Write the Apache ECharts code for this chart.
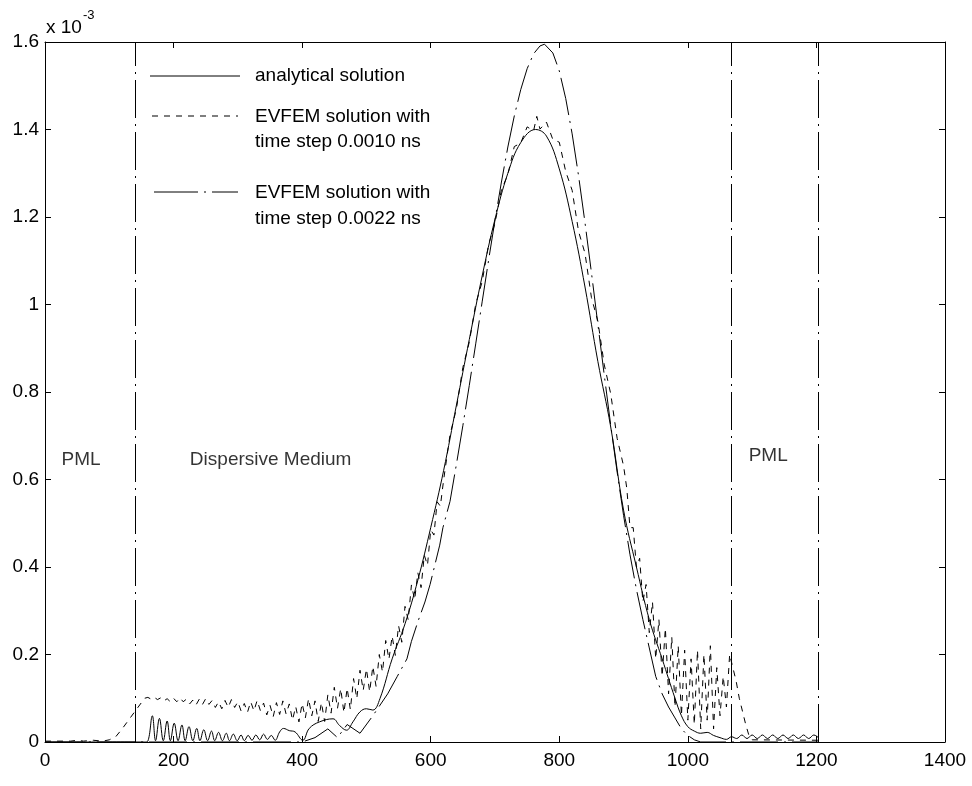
<!DOCTYPE html>
<html>
<head>
<meta charset="utf-8">
<script src="https://cdn.jsdelivr.net/npm/echarts@6/dist/echarts.min.js"></script>
<style>
html,body{margin:0;padding:0;background:#fff;}
#chart{width:972px;height:786px;}
</style>
</head>
<body>
<div id="chart"></div>
<script>
// ---- data (values in units of 1e-3) ----
const analytical = [[0,0],[155,0],[160,0.002],[167,0.060],[172,0.003],[178,0.054],[184,0.003],[190,0.048],[195,0.003],[201,0.043],[207,0.003],[213,0.039],[218,0.003],[224,0.035],[230,0.003],[236,0.031],[241,0.003],[247,0.028],[253,0.003],[259,0.025],[264,0.003],[270,0.022],[276,0.003],[282,0.020],[287,0.003],[293,0.018],[299,0.003],[305,0.016],[310,0.003],[316,0.015],[322,0.004],[328,0.016],[334,0.005],[340,0.018],[346,0.006],[352,0.015],[358,0.004],[365,0.023],[371,0.031],[380,0.026],[389,0.023],[401,0.004],[411,0.031],[427,0.046],[448,0.053],[458,0.038],[469,0.027],[479,0.046],[490,0.069],[500,0.076],[510,0.073],[521,0.099],[540,0.19],[560,0.27],[580,0.37],[600,0.49],[620,0.62],[640,0.77],[660,0.92],[680,1.065],[700,1.195],[720,1.30],[740,1.37],[763,1.40],[780,1.385],[800,1.31],[820,1.19],[840,1.04],[860,0.87],[880,0.72],[900,0.53],[920,0.40],[940,0.28],[960,0.19],[980,0.10],[990,0.06],[1000,0.035],[1010,0.025],[1020,0.02],[1030,0.022],[1040,0.015],[1050,0.01],[1060,0.006],[1068,0.012],[1076,0.008],[1084,0.016],[1092,0.008],[1100,0.016],[1108,0.008],[1116,0.016],[1124,0.008],[1132,0.016],[1140,0.008],[1148,0.016],[1156,0.008],[1164,0.016],[1172,0.008],[1180,0.016],[1188,0.008],[1196,0.016],[1203,0.01]];

const evfem0010 = [[0,0.002],[40,0.002],[50,0.004],[60,0.002],[75,0.004],[90,0.002],[100,0.005],[110,0.012],[120,0.03],[130,0.05],[140,0.07],[150,0.09],[155,0.1],
[160,0.102],[165,0.098],[170,0.102],[175,0.097],[180,0.101],[185,0.094],[190,0.099],[195,0.092],[200,0.100],[205,0.092],[210,0.101],[215,0.092],[220,0.098],[225,0.087],[230,0.096],[235,0.085],[240,0.098],[245,0.086],[250,0.099],[255,0.086],[260,0.095],[265,0.079],[270,0.092],[275,0.076],[280,0.095],[285,0.079],[290,0.097],[295,0.079],[300,0.092],[305,0.071],[310,0.088],[315,0.068],[320,0.092],[325,0.071],[330,0.095],[335,0.072],[340,0.089],[345,0.062],[350,0.084],[355,0.058],[360,0.090],[365,0.063],[370,0.094],[375,0.064],[380,0.087],[385,0.050],[390,0.081],[395,0.046],[400,0.088],[405,0.055],[410,0.099],[415,0.060],[420,0.094],[425,0.047],[430,0.090],[435,0.047],[440,0.108],[445,0.066],[450,0.125],[455,0.077],[460,0.122],[465,0.067],[470,0.123],[475,0.074],[480,0.145],[485,0.099],[490,0.164],[495,0.118],[500,0.167],[505,0.115],[510,0.173],[515,0.127],[520,0.200],[525,0.160],[530,0.232],[535,0.189],[540,0.242],[545,0.198],[550,0.266],[555,0.228],[560,0.310],[565,0.279],[570,0.359],[575,0.325],[580,0.387],[585,0.353],[590,0.427],[595,0.404],[600,0.485],[605,0.473],[610,0.549],[615,0.539],[620,0.598],
[630,0.702],[640,0.762],[650,0.856],[660,0.914],[670,1.001],[680,1.052],[690,1.137],[700,1.186],[710,1.262],[720,1.297],[730,1.361],[740,1.369],[750,1.406],[760,1.397],[765,1.43],[770,1.401],[780,1.417],[790,1.377],[800,1.371],[810,1.304],[820,1.261],[830,1.167],[840,1.117],[850,1.016],[860,0.962],[870,0.862],[880,0.796],[890,0.694],[900,0.631],
[905,0.58],[910,0.49],[915,0.49],[920,0.40],[925,0.42],[930,0.32],[935,0.36],[940,0.25],[945,0.32],[950,0.19],[955,0.28],[960,0.15],[965,0.26],[970,0.11],[975,0.24],[980,0.08],[985,0.22],[990,0.06],[995,0.21],[1000,0.05],[1005,0.19],[1010,0.04],[1015,0.21],[1020,0.03],[1025,0.20],[1030,0.05],[1035,0.22],[1040,0.03],[1045,0.17],[1050,0.06],[1055,0.15],[1060,0.08],[1065,0.20],[1070,0.17],[1075,0.14],[1080,0.10],[1085,0.07],[1090,0.04],[1095,0.015],[1100,0.005],[1203,0.004]];

const evfem0022 = [[0,0],[400,0],[420,0.01],[440,0.03],[455,0.01],[470,0.04],[490,0.02],[510,0.06],[533,0.11],[548,0.15],[563,0.19],[570,0.23],[580,0.275],[591,0.32],[599,0.36],[614,0.45],[619,0.49],[630,0.55],[640,0.635],[650,0.723],[660,0.815],[670,0.91],[680,1.006],[690,1.101],[700,1.193],[710,1.28],[720,1.36],[730,1.431],[740,1.491],[750,1.539],[760,1.573],[770,1.591],[777,1.595],[790,1.575],[800,1.534],[810,1.471],[820,1.39],[830,1.294],[840,1.187],[850,1.073],[860,0.955],[870,0.838],[880,0.724],[890,0.617],[900,0.518],[910,0.428],[920,0.349],[930,0.28],[940,0.215],[950,0.15],[960,0.11],[970,0.08],[980,0.055],[990,0.03],[1000,0.015],[1010,0.005],[1020,0],[1203,0]];

const boundaries = [140, 1068, 1203];
const regionLabels = [[56, 0.646, 'PML'], [351, 0.646, 'Dispersive Medium'], [1125, 0.655, 'PML']];
const seriesNames = ['analytical solution', 'EVFEM solution with\ntime step 0.0010 ns', 'EVFEM solution with\ntime step 0.0022 ns'];

// ---- chart ----
const FONT = "'Liberation Sans', Arial, Helvetica, sans-serif";
const FS = 19;
const DASH = [6, 6];
const DASHDOT = [38, 6, 2, 6];
const chart = echarts.init(document.getElementById('chart'), null, {renderer: 'canvas'});

const axisCommon = {
  type: 'value',
  axisLine: {show: true, onZero: false, lineStyle: {color: '#000', width: 1}},
  axisTick: {show: true, inside: true, length: 6, lineStyle: {color: '#000'}},
  splitLine: {show: false}
};

const option = {
  animation: false,
  backgroundColor: '#fff',
  grid: {left: 45, right: 27, top: 42, bottom: 44, containLabel: false},
  xAxis: [
    Object.assign({}, axisCommon, {min: 0, max: 1400, interval: 200, position: 'bottom',
      axisLabel: {color: '#000', fontSize: FS, fontFamily: FONT, margin: 9,
        formatter: v => String(Math.round(v))}}),
    Object.assign({}, axisCommon, {min: 0, max: 1400, interval: 200, position: 'top',
      axisLabel: {show: false}})
  ],
  yAxis: [
    Object.assign({}, axisCommon, {min: 0, max: 1.6, interval: 0.2, position: 'left',
      axisLabel: {color: '#000', fontSize: FS, fontFamily: FONT, margin: 6,
        formatter: v => String(Math.round(v * 10) / 10)}}),
    Object.assign({}, axisCommon, {min: 0, max: 1.6, interval: 0.2, position: 'right',
      axisLabel: {show: false}})
  ],
  series: [
    {
      name: seriesNames[0], type: 'line', data: analytical, showSymbol: false, symbol: 'none',
      smooth: 0.4,
      lineStyle: {color: '#000', width: 1, type: 'solid'}, z: 3,
      markLine: {
        silent: true, symbol: ['none', 'none'], label: {show: false},
        lineStyle: {color: '#000', width: 1, type: DASHDOT},
        data: boundaries.map(v => ({xAxis: v}))
      }
    },
    {
      name: seriesNames[1], type: 'line', data: evfem0010, showSymbol: false, symbol: 'none',
      lineStyle: {color: '#000', width: 1, type: DASH}, z: 2
    },
    {
      name: seriesNames[2], type: 'line', data: evfem0022, showSymbol: false, symbol: 'none',
      lineStyle: {color: '#000', width: 1, type: DASHDOT}, z: 2
    },
    {
      type: 'scatter', data: regionLabels, symbolSize: 0, silent: true,
      itemStyle: {color: '#000'},
      label: {show: true, position: 'inside', formatter: p => p.value[2],
        color: '#000', fontSize: FS, fontFamily: FONT}
    }
  ],
  graphic: [
    {type: 'text', left: 46, top: 9, style: {
      text: '{a|x 10}{s|-3}', font: FS + 'px ' + FONT, fill: '#000',
      rich: {a: {fontSize: FS, fontFamily: FONT, fill: '#000', padding: [9, 0, 0, 0]},
             s: {fontSize: 13, fontFamily: FONT, fill: '#000', verticalAlign: 'top', padding: [0, 0, 10, 1]}}}},
    {type: 'line', shape: {x1: 150, y1: 76, x2: 240, y2: 76}, style: {stroke: '#000', lineWidth: 1}},
    {type: 'text', x: 255, y: 76, style: {text: 'analytical solution', font: FS + 'px ' + FONT, fill: '#000', textVerticalAlign: 'middle'}},
    {type: 'line', shape: {x1: 152, y1: 116, x2: 238, y2: 116}, style: {stroke: '#000', lineWidth: 1, lineDash: DASH}},
    {type: 'text', x: 255, y: 117, style: {text: 'EVFEM solution with', font: FS + 'px ' + FONT, fill: '#000', textVerticalAlign: 'middle'}},
    {type: 'text', x: 255, y: 142, style: {text: 'time step 0.0010 ns', font: FS + 'px ' + FONT, fill: '#000', textVerticalAlign: 'middle'}},
    {type: 'line', shape: {x1: 154, y1: 192, x2: 238, y2: 192}, style: {stroke: '#000', lineWidth: 1, lineDash: [44, 6, 2, 6]}},
    {type: 'text', x: 255, y: 193, style: {text: 'EVFEM solution with', font: FS + 'px ' + FONT, fill: '#000', textVerticalAlign: 'middle'}},
    {type: 'text', x: 255, y: 219, style: {text: 'time step 0.0022 ns', font: FS + 'px ' + FONT, fill: '#000', textVerticalAlign: 'middle'}}
  ]
};
chart.setOption(option);
</script>
</body>
</html>
